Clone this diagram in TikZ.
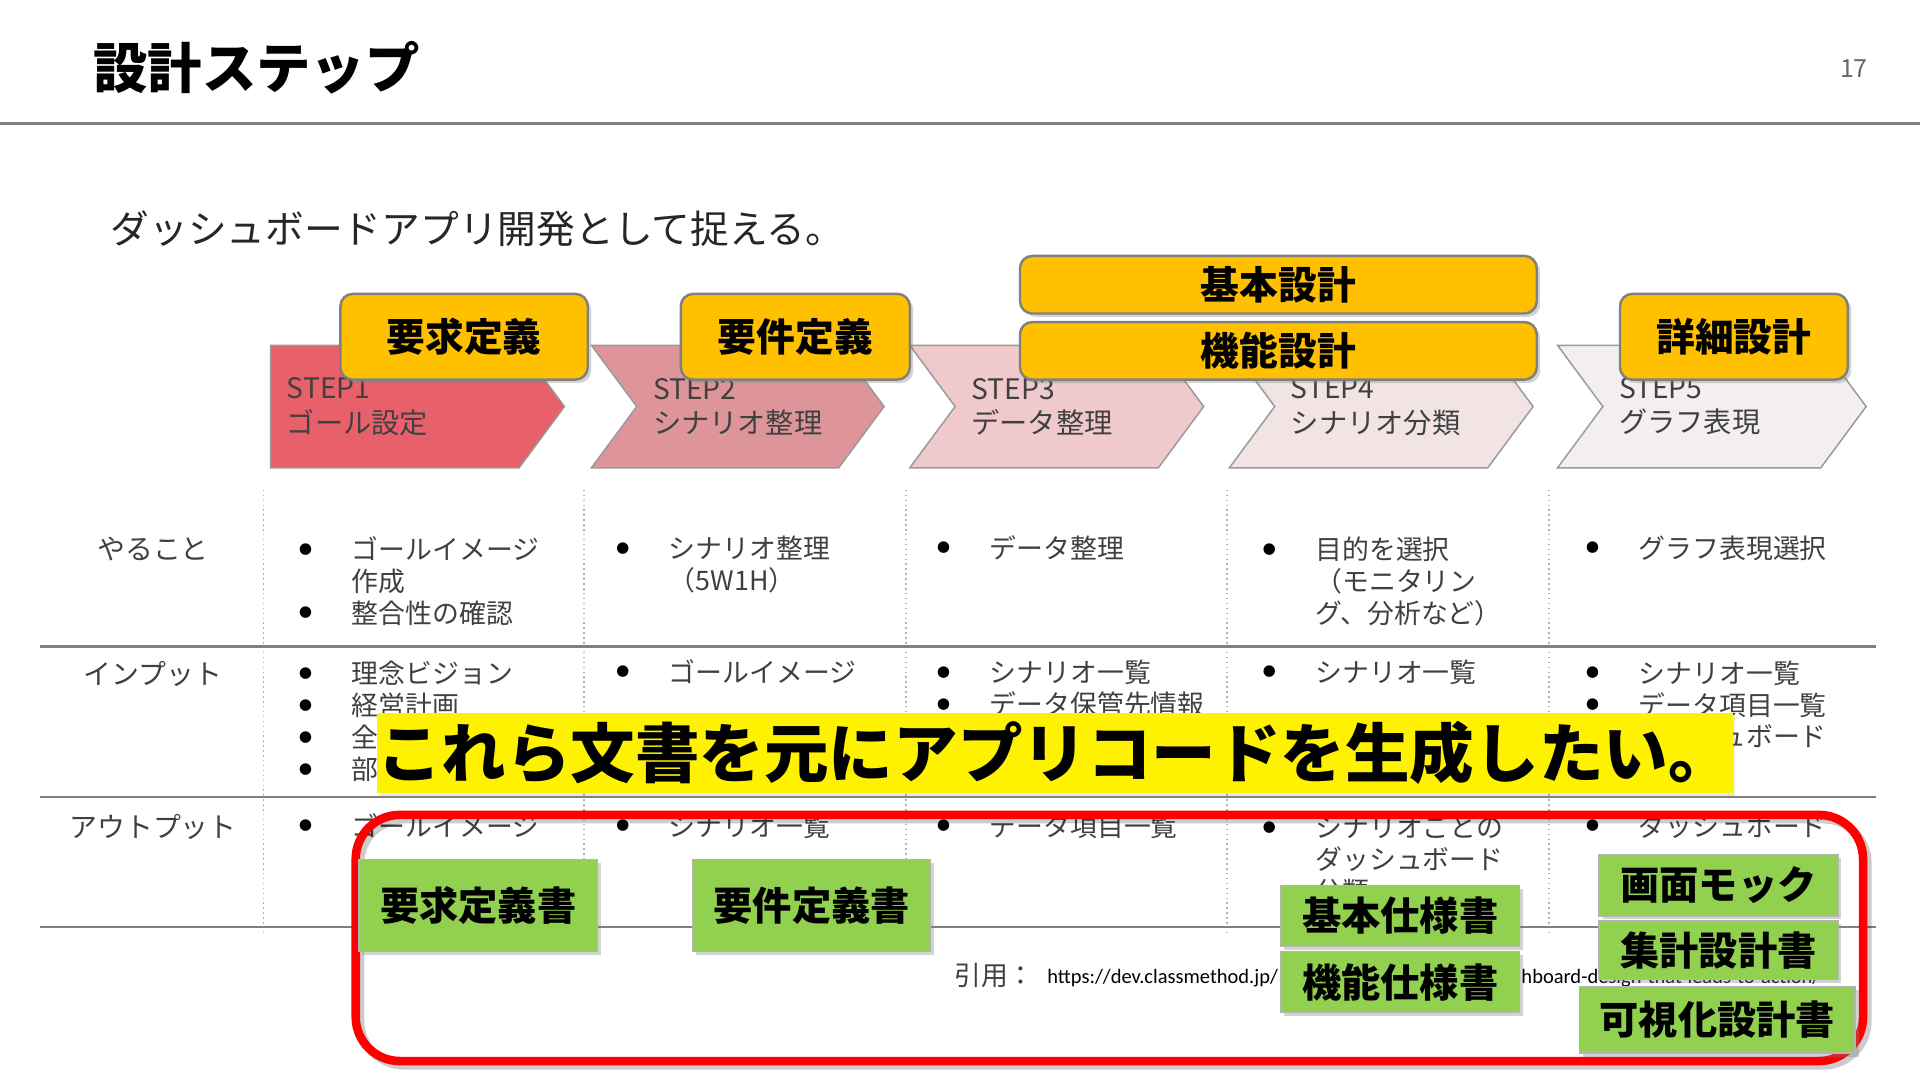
\documentclass[tikz,border=0pt]{standalone}
\usepackage{fontspec}
\setmainfont{Noto Sans CJK JP}
\newfontfamily\linkfont{Carlito}
\usepackage{tikz}
\usetikzlibrary{shadows}
\definecolor{stepone}{HTML}{E8606A}
\definecolor{steptwo}{HTML}{DE9599}
\definecolor{stepthree}{HTML}{EFC9CB}
\definecolor{stepfour}{HTML}{F2E4E5}
\definecolor{stepfive}{HTML}{F3EFEF}
\definecolor{phaseorange}{HTML}{FFC000}
\definecolor{docgreen}{HTML}{92D050}
\definecolor{textgray}{HTML}{404040}
\definecolor{rulegray}{HTML}{808080}
\newcommand{\fsz}[2]{\fontsize{#1}{#2}\selectfont}
\newcommand{\itembul}{\makebox[10.75mm][l]{\raisebox{1.1mm}{\color{black}\fsz{7.5pt}{8pt}●}}}
\newcommand{\indtxt}{\hspace*{10.75mm}}

\begin{document}
\begin{tikzpicture}[x=0.25mm,y=-0.25mm,
  chev/.style={draw=rulegray!80,line width=0.3mm},
  steptxt/.style={anchor=west,align=left,inner sep=0pt,text=textgray,font=\fsz{16.4pt}{19.9pt}},
  phase/.style={draw=rulegray,line width=0.5mm,fill=phaseorange,rounded corners=2.5mm,inner sep=0pt,
    font=\bfseries\fsz{22.5pt}{26pt},drop shadow={opacity=0.35,shadow xshift=0.7mm,shadow yshift=-0.7mm}},
  doc/.style={draw=rulegray!60,line width=0.3mm,fill=docgreen,inner sep=0pt,
    font=\bfseries\fsz{22.8pt}{26pt},drop shadow={opacity=0.35,shadow xshift=0.7mm,shadow yshift=-0.7mm}},
  banner/.style={fill=yellow,inner sep=0pt,font=\bfseries\fsz{37.5pt}{40pt},
    drop shadow={opacity=0.2,shadow xshift=0.5mm,shadow yshift=-0.5mm}},
  rowlab/.style={inner sep=0pt,text=textgray,font=\fsz{16.2pt}{18.5pt}},
  cell/.style={anchor=base west,align=left,inner sep=0pt,text=textgray,font=\fsz{15.6pt}{18.5pt}},
  sep/.style={draw=rulegray,line width=0.5mm},
  col/.style={draw=gray!60,dotted,line width=0.3mm},
  frame/.style={draw=red,line width=1.75mm,rounded corners=9mm}
]
\useasboundingbox (0,0) rectangle (1568,882);

% header
\node[anchor=west,inner sep=0pt,font=\bfseries\fsz{31.6pt}{36pt}] (title) at (76,55) {設計ステップ};
\node[text=rulegray!80!black,font=\fsz{14.5pt}{16pt}] (page) at (1514,56) {17};
\draw[rulegray,line width=0.5mm] (0,101) -- (1568,101);
\node[anchor=west,inner sep=0pt,text=black!85,font=\fsz{22.5pt}{26pt}] (sub) at (90,187) {ダッシュボードアプリ開発として捉える。};

% steps
\filldraw[chev,fill=stepone] (221,282) -- (424,282) -- (461,332) -- (424,382) -- (221,382) -- cycle;
\filldraw[chev,fill=steptwo] (483,282) -- (685,282) -- (722,332) -- (685,382) -- (483,382) -- (520,332) -- cycle;
\filldraw[chev,fill=stepthree] (743,282) -- (946,282) -- (983,332) -- (946,382) -- (743,382) -- (780,332) -- cycle;
\filldraw[chev,fill=stepfour] (1004,282) -- (1215,282) -- (1252,332) -- (1215,382) -- (1004,382) -- (1041,332) -- cycle;
\filldraw[chev,fill=stepfive] (1272,282) -- (1487,282) -- (1524,332) -- (1487,382) -- (1272,382) -- (1309,332) -- cycle;
\node[steptxt] (st1) at (234,332) {STEP1\\ゴール設定};
\node[steptxt] (st2) at (533,332) {STEP2\\シナリオ整理};
\node[steptxt] (st3) at (793,332) {STEP3\\データ整理};
\node[steptxt] (st4) at (1054,332) {STEP4\\シナリオ分類};
\node[steptxt] (st5) at (1322,332) {STEP5\\グラフ表現};

% phases
\node[phase,minimum width=50.5mm,minimum height=17.5mm] (req) at (379,275) {要求定義};
\node[phase,minimum width=46.75mm,minimum height=17.5mm] (reqs) at (649.5,275) {要件定義};
\node[phase,minimum width=105.5mm,minimum height=11.75mm] (basic) at (1044,232.5) {基本設計};
\node[phase,minimum width=105.5mm,minimum height=11.75mm] (func) at (1044,286.5) {機能設計};
\node[phase,minimum width=46.5mm,minimum height=17.5mm] (detail) at (1416,275) {詳細設計};

% table (cells sit on the baseline of their last line)
\foreach \x in {215,477,740,1002,1265}
  \draw[col] (\x,400) -- (\x,762);
\foreach \y in {528,651,757}
  \draw[sep] (33,\y) -- (1532,\y);
\node[rowlab] (todo) at (125,448) {やること};
\node[rowlab] (input) at (125,550) {インプット};
\node[rowlab] (output) at (125,675) {アウトプット};

\node[cell] (a1) at (244,509) {\itembul ゴールイメージ\\\indtxt 作成\\\itembul 整合性の確認};
\node[cell] (a2) at (503,482.5) {\itembul シナリオ整理\\\indtxt （5W1H）};
\node[cell] (a3) at (765,456) {\itembul データ整理};
\node[cell] (a4) at (1031,509) {\itembul 目的を選択\\\indtxt （モニタリン\\\indtxt グ、分析など）};
\node[cell] (a5) at (1295,456) {\itembul グラフ表現選択};

\node[cell] (b1) at (244,636.5) {\itembul 理念ビジョン\\\itembul 経営計画\\\itembul 全社\\\itembul 部門};
\node[cell] (b2) at (503,557) {\itembul ゴールイメージ};
\node[cell] (b3) at (765,583.5) {\itembul シナリオ一覧\\\itembul データ保管先情報};
\node[cell] (b4) at (1031,557) {\itembul シナリオ一覧};
\node[cell] (b5) at (1295,610) {\itembul シナリオ一覧\\\itembul データ項目一覧\\\itembul ダッシュボード};

\node[cell] (c1) at (244,683) {\itembul ゴールイメージ};
\node[cell] (c2) at (503,683) {\itembul シナリオ一覧};
\node[cell] (c3) at (765,683) {\itembul データ項目一覧};
\node[cell] (c4) at (1031,736) {\itembul シナリオごとの\\\indtxt ダッシュボード\\\indtxt 分類};
\node[cell] (c5) at (1295,683) {\itembul ダッシュボード};

% message
\node[banner,minimum width=274.25mm,minimum height=16.5mm] (goal) at (861.5,615) {これら文書を元にアプリコードを生成したい。};

% documents
\draw[frame,draw=black,opacity=0.2] (294,669) rectangle (1525,870);
\draw[frame] (290.5,665.5) rectangle (1521.5,866.5);
\node[anchor=west,inner sep=0pt,text=textgray,font=\fsz{15.6pt}{18pt}] (cite) at (779,797) {引用：};
\node[anchor=west,inner sep=0pt,font=\linkfont\fsz{11.9pt}{14pt}] (url1) at (855,799) {https://dev.classmethod.jp/};
\node[anchor=east,inner sep=0pt,font=\linkfont\fsz{11.9pt}{14pt}] (url2) at (1487,799) {hboard-design-that-leads-to-action/};

\node[doc,minimum width=48.75mm,minimum height=18.75mm] (reqdoc) at (390.5,739.5) {要求定義書};
\node[doc,minimum width=48.5mm,minimum height=18.75mm] (specdoc) at (663,739.5) {要件定義書};
\node[doc,minimum width=48.75mm,minimum height=12.5mm] (basicdoc) at (1143.5,748) {基本仕様書};
\node[doc,minimum width=48.75mm,minimum height=12.5mm] (funcdoc) at (1143.5,802) {機能仕様書};
\node[doc,minimum width=48.75mm,minimum height=12.5mm] (mock) at (1403.5,723) {画面モック};
\node[doc,minimum width=48.75mm,minimum height=12mm] (aggdoc) at (1403.5,776) {集計設計書};
\node[doc,minimum width=56.25mm,minimum height=13.5mm] (visdoc) at (1402.5,833) {可視化設計書};
\end{tikzpicture}
\end{document}
